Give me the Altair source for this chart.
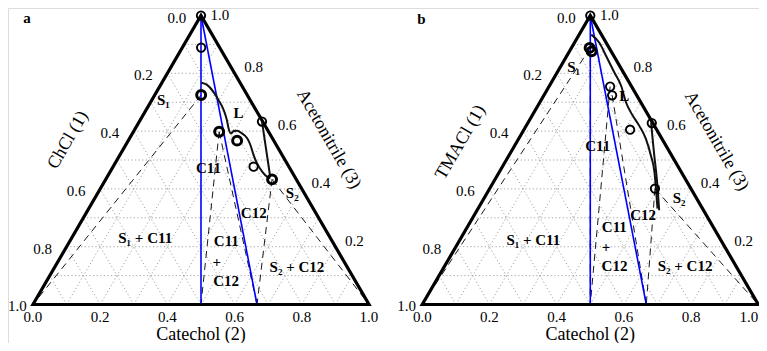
import altair as alt
import pandas as pd

# ---------------- data ----------------
PANELS = ["a", "b"]
PANEL_ORIGIN = [0.0744, 1.2330]          # left corner of each triangle on the shared x scale
LEFT_TITLES = ["ChCl (1)", "TMACl (1)"]
BOTTOM_TITLE = "Catechol (2)"
RIGHT_TITLE = "Acetonitrile (3)"
TICK_VALUES = [0.0, 0.2, 0.4, 0.6, 0.8, 1.0]
TICK_LABELS = ["0.0", "0.2", "0.4", "0.6", "0.8", "1.0"]
GRID_VALUES = [0.1, 0.2, 0.3, 0.4, 0.5, 0.6, 0.7, 0.8, 0.9]
COMPOUND_CAT = [0.5, 0.6667]             # C11 and C12 on the catechol axis

# measured points (catechol, acetonitrile mole fractions)
A_PT_CAT = [0.0, 0.056, 0.138, 0.255, 0.324, 0.418, 0.495, 0.365]
A_PT_ACE = [1.0, 0.889, 0.725, 0.598, 0.567, 0.477, 0.433, 0.633]
A_PT_BOLD = [0, 0, 1, 1, 1, 0, 1, 0]
B_PT_CAT = [0.0, 0.054, 0.066, 0.182, 0.203, 0.316, 0.369, 0.492]
B_PT_ACE = [1.0, 0.888, 0.876, 0.754, 0.724, 0.605, 0.628, 0.401]
B_PT_BOLD = [0, 1, 1, 0, 0, 0, 0, 0]

# solubility curves
A_LIQ_CAT = [0.117, 0.138, 0.169, 0.198, 0.231, 0.258, 0.277, 0.293, 0.297, 0.307,
             0.326, 0.350, 0.371, 0.398, 0.422, 0.452, 0.476, 0.488]
A_LIQ_ACE = [0.767, 0.760, 0.736, 0.708, 0.673, 0.638, 0.610, 0.592, 0.600, 0.601,
             0.592, 0.575, 0.552, 0.517, 0.489, 0.460, 0.442, 0.437]
A_LIQ2_CAT = [0.365, 0.485]
A_LIQ2_ACE = [0.633, 0.442]
B_LIQ_CAT = [0.036, 0.075, 0.118, 0.171, 0.214, 0.257, 0.289, 0.336, 0.379, 0.423, 0.462, 0.495, 0.534]
B_LIQ_ACE = [0.934, 0.905, 0.859, 0.802, 0.756, 0.699, 0.664, 0.619, 0.573, 0.515, 0.458, 0.401, 0.332]
B_LIQ2_CAT = [0.366, 0.399, 0.433, 0.467, 0.500, 0.542]
B_LIQ2_ACE = [0.630, 0.573, 0.515, 0.458, 0.401, 0.326]

# tie lines (dashed): from liquid point to solid composition
A_TIE_FROM_CAT = [0.138, 0.255, 0.255, 0.495, 0.495]
A_TIE_FROM_ACE = [0.725, 0.598, 0.598, 0.433, 0.433]
A_TIE_TO_CAT = [0.0, 0.5, 0.6667, 0.6667, 1.0]
B_TIE_FROM_CAT = [0.056, 0.056, 0.182, 0.203, 0.492, 0.492]
B_TIE_FROM_ACE = [0.888, 0.888, 0.754, 0.724, 0.401, 0.401]
B_TIE_TO_CAT = [0.0, 0.5, 0.5, 0.6667, 0.6667, 1.0]

# region labels
REG_TEXT = ["S\u2081", "L", "C11", "C12", "S\u2082", "S\u2081 + C11", "C11", "+", "C12", "S\u2082 + C12"]
A_REG_CAT = [0.034, 0.280, 0.286, 0.499, 0.579, 0.219, 0.465, 0.473, 0.534, 0.720]
A_REG_ACE = [0.708, 0.663, 0.472, 0.316, 0.385, 0.230, 0.221, 0.148, 0.082, 0.131]
B_REG_CAT = [0.040, 0.240, 0.247, 0.503, 0.581, 0.219, 0.438, 0.447, 0.505, 0.716]
B_REG_ACE = [0.821, 0.722, 0.550, 0.309, 0.367, 0.223, 0.267, 0.200, 0.134, 0.132]

# axis-title anchor positions (ternary coords, outside the triangle)
LEFT_TITLE_CAT = [-0.180, -0.167]
LEFT_TITLE_ACE = [0.569, 0.561]
RIGHT_TITLE_CAT = [0.594, 0.593]
RIGHT_TITLE_ACE = [0.572, 0.565]
# panel letter positions
LETTER_CAT = [-0.505, -0.487]
LETTER_ACE = [0.9745, 0.969]

PT_CAT = [A_PT_CAT, B_PT_CAT]
PT_ACE = [A_PT_ACE, B_PT_ACE]
PT_BOLD = [A_PT_BOLD, B_PT_BOLD]
LIQ = [[(A_LIQ_CAT, A_LIQ_ACE), (A_LIQ2_CAT, A_LIQ2_ACE)],
       [(B_LIQ_CAT, B_LIQ_ACE), (B_LIQ2_CAT, B_LIQ2_ACE)]]
TIE = [(A_TIE_FROM_CAT, A_TIE_FROM_ACE, A_TIE_TO_CAT),
       (B_TIE_FROM_CAT, B_TIE_FROM_ACE, B_TIE_TO_CAT)]
REG = [(A_REG_CAT, A_REG_ACE), (B_REG_CAT, B_REG_ACE)]


def cart(p, cat, ace):
    return PANEL_ORIGIN[p] + cat + ace / 2.0, ace


def seg(p, c1, a1, c2, a2):
    x, y = cart(p, c1, a1)
    x2, y2 = cart(p, c2, a2)
    return {"x": x, "y": y, "x2": x2, "y2": y2}


grid_rows, edge_rows, tie_rows, blue_rows = [], [], [], []
line_rows, pt_rows, reg_rows, tick_rows, title_rows = [], [], [], [], []
for p in range(2):
    for g in GRID_VALUES:
        grid_rows.append(seg(p, 0, g, 1 - g, g))
        grid_rows.append(seg(p, g, 0, g, 1 - g))
        grid_rows.append(seg(p, 1 - g, 0, 0, 1 - g))
    for i, (c, a) in enumerate([(0, 0), (1, 0), (0, 1), (0, 0), (1, 0)]):
        x, y = cart(p, c, a)
        edge_rows.append({"x": x, "y": y, "k": f"e{p}", "i": i})
    fc, fa, tc = TIE[p]
    for j in range(len(fc)):
        tie_rows.append(seg(p, fc[j], fa[j], tc[j], 0.0))
    for cc in COMPOUND_CAT:
        blue_rows.append(seg(p, 0.0, 1.0, cc, 0.0))
    for k, (lc, la) in enumerate(LIQ[p]):
        for i in range(len(lc)):
            x, y = cart(p, lc[i], la[i])
            line_rows.append({"x": x, "y": y, "k": f"l{p}{k}", "i": i})
    for i in range(len(PT_CAT[p])):
        x, y = cart(p, PT_CAT[p][i], PT_ACE[p][i])
        pt_rows.append({"x": x, "y": y, "bold": PT_BOLD[p][i]})
    rc, ra = REG[p]
    for i, t in enumerate(REG_TEXT):
        x, y = cart(p, rc[i], ra[i])
        reg_rows.append({"x": x, "y": y, "t": t})
    for v, lab in zip(TICK_VALUES, TICK_LABELS):
        # left edge: component (1)
        x, y = cart(p, 0.0, 1 - v)
        side = "left_corner" if v == 1.0 else "left"
        tick_rows.append({"x": x, "y": y, "t": lab, "side": side})
        # right edge: acetonitrile (3)
        if v > 0:
            x, y = cart(p, 1 - v, v)
            side = "right_apex" if v == 1.0 else "right"
            tick_rows.append({"x": x, "y": y, "t": lab, "side": side})
        # bottom edge: catechol (2)
        x, y = cart(p, v, 0.0)
        side = "bottom_end" if (v == 1.0 and p == 1) else "bottom"
        tick_rows.append({"x": x, "y": y, "t": lab, "side": side})
    x, y = cart(p, LEFT_TITLE_CAT[p], LEFT_TITLE_ACE[p])
    title_rows.append({"x": x, "y": y, "t": LEFT_TITLES[p], "side": "left"})
    x, y = cart(p, RIGHT_TITLE_CAT[p], RIGHT_TITLE_ACE[p])
    title_rows.append({"x": x, "y": y, "t": RIGHT_TITLE, "side": "right"})
    x, y = cart(p, 0.5, 0.0)
    title_rows.append({"x": x, "y": y, "t": BOTTOM_TITLE, "side": "bottom"})

letter_rows = []
for p in range(2):
    x, y = cart(p, LETTER_CAT[p], LETTER_ACE[p])
    letter_rows.append({"x": x, "y": y, "t": PANELS[p]})

W, H = 751, 335
xs = alt.Scale(domain=[0, W / 336.0], nice=False, zero=False)
ys = alt.Scale(domain=[-0.1332, 1.0260], nice=False, zero=False)
X = alt.X("x:Q", scale=xs, axis=None)
Y = alt.Y("y:Q", scale=ys, axis=None)
SERIF = "Liberation Serif, Times New Roman, Times, DejaVu Serif, serif"

grid = alt.Chart(pd.DataFrame(grid_rows)).mark_rule(
    color="#9a9a9a", strokeWidth=0.9, strokeDash=[1.2, 2.4]
).encode(x=X, y=Y, x2="x2:Q", y2="y2:Q")

ties = alt.Chart(pd.DataFrame(tie_rows)).mark_rule(
    color="black", strokeWidth=0.9, strokeDash=[7, 5]
).encode(x=X, y=Y, x2="x2:Q", y2="y2:Q")

blue = alt.Chart(pd.DataFrame(blue_rows)).mark_rule(
    color="#0000ff", strokeWidth=1.6
).encode(x=X, y=Y, x2="x2:Q", y2="y2:Q")

edges = alt.Chart(pd.DataFrame(edge_rows)).mark_line(
    color="black", strokeWidth=3.2, strokeJoin="miter"
).encode(x=X, y=Y, detail="k:N", order="i:Q")

curves = alt.Chart(pd.DataFrame(line_rows)).mark_line(
    color="#111111", strokeWidth=2.0, interpolate="monotone"
).encode(x=X, y=Y, detail="k:N", order="i:Q")

pts = pd.DataFrame(pt_rows)
thin = alt.Chart(pts[pts["bold"] == 0]).mark_point(
    shape="circle", filled=False, color="black", size=70, strokeWidth=1.9, opacity=1
).encode(x=X, y=Y)
bold = alt.Chart(pts[pts["bold"] == 1]).mark_point(
    shape="circle", filled=False, color="black", size=80, strokeWidth=3.0, opacity=1
).encode(x=X, y=Y)

regs = alt.Chart(pd.DataFrame(reg_rows)).mark_text(
    font=SERIF, fontSize=15, fontWeight="bold", color="black", align="center", baseline="middle"
).encode(x=X, y=Y, text="t:N")

tk = pd.DataFrame(tick_rows)


def tick_layer(side, **kw):
    return alt.Chart(tk[tk["side"] == side]).mark_text(
        font=SERIF, fontSize=15, color="black", baseline="middle", **kw
    ).encode(x=X, y=Y, text="t:N")


tick_layers = [
    tick_layer("left", align="center", dx=-24, dy=2),
    tick_layer("left_corner", align="left", dx=-25, dy=1),
    tick_layer("right", align="center", dx=19, dy=-6),
    tick_layer("right_apex", align="center", dx=19, dy=-1),
    tick_layer("bottom", align="center", dy=12),
    tick_layer("bottom_end", align="right", dy=12),
]

tt = pd.DataFrame(title_rows)
title_left = alt.Chart(tt[tt["side"] == "left"]).mark_text(
    font=SERIF, fontSize=18, color="black", align="center", baseline="middle", angle=300
).encode(x=X, y=Y, text="t:N")
title_right = alt.Chart(tt[tt["side"] == "right"]).mark_text(
    font=SERIF, fontSize=18, color="black", align="center", baseline="middle", angle=60
).encode(x=X, y=Y, text="t:N")
title_bottom = alt.Chart(tt[tt["side"] == "bottom"]).mark_text(
    font=SERIF, fontSize=18, color="black", align="center", baseline="alphabetic", dy=35.5
).encode(x=X, y=Y, text="t:N")

letters = alt.Chart(pd.DataFrame(letter_rows)).mark_text(
    font=SERIF, fontSize=15, fontWeight="bold", color="black", align="center", baseline="alphabetic"
).encode(x=X, y=Y, text="t:N")

chart = alt.layer(
    grid, ties, blue, edges, curves, thin, bold, regs,
    *tick_layers, title_left, title_right, title_bottom, letters
).properties(
    width=W, height=H, padding=0, autosize=alt.AutoSizeParams(type="none")
).configure_view(stroke=None).configure(background="white")

chart.save("out.html", embed_options={"renderer": "svg", "actions": False})
